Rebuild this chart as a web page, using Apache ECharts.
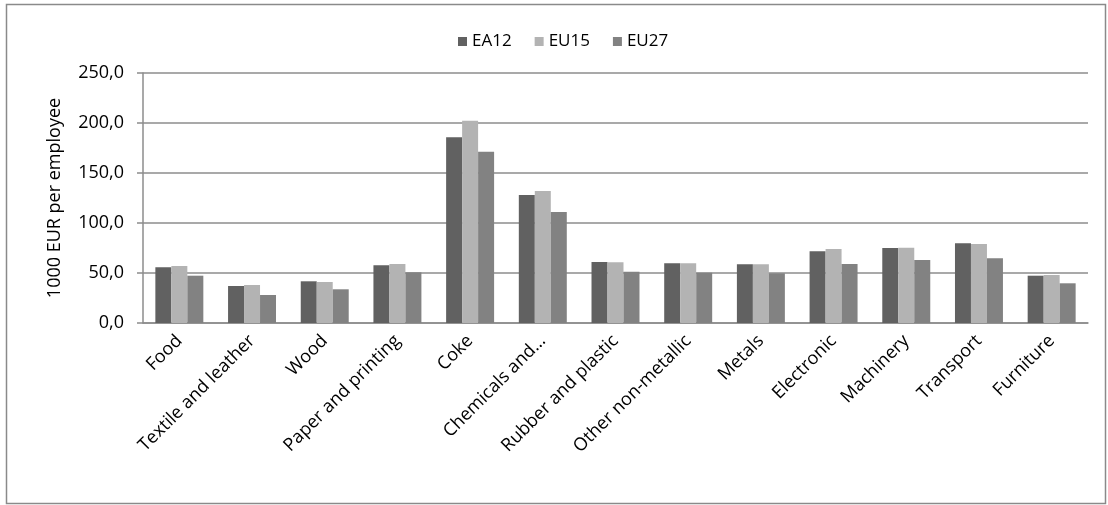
<!DOCTYPE html>
<html>
<head>
<meta charset="utf-8">
<script src="https://cdn.jsdelivr.net/npm/echarts@6/dist/echarts.min.js"></script>
<style>
  html, body { margin: 0; padding: 0; background: #fff; }
  #chart { width: 1108px; height: 505px; }
</style>
</head>
<body>
<div id="chart"></div>
<script>
// Industry sectors on the category axis
const categories = [
  'Food', 'Textile and leather', 'Wood', 'Paper and printing', 'Coke',
  'Chemicals and\u2026', 'Rubber and plastic', 'Other non-metallic', 'Metals',
  'Electronic', 'Machinery', 'Transport', 'Furniture'
];

// Labour productivity, 1000 EUR per employee
const ea12 = [55.7, 37.0, 41.7, 57.7, 185.7, 128.0, 61.0, 59.7, 58.7, 71.7, 75.0, 79.7, 47.3];
const eu15 = [57.0, 38.0, 41.0, 59.0, 202.3, 132.0, 60.7, 59.7, 58.7, 74.0, 75.3, 79.0, 48.0];
const eu27 = [47.3, 28.0, 33.7, 50.7, 171.3, 111.0, 51.3, 50.3, 49.7, 59.0, 63.0, 64.7, 39.7];

const yTicks = { min: 0, max: 250, interval: 50 };
const yAxisTitle = '1000 EUR per employee';

const FONT = '"Open Sans", "DejaVu Sans", sans-serif';
const GRID_GREY = '#8c8c8c';

const chart = echarts.init(document.getElementById('chart'), null, { renderer: 'canvas' });

function barSeries(name, data, color) {
  return {
    name: name,
    type: 'bar',
    data: data,
    barGap: '0%',
    barCategoryGap: '34%',
    itemStyle: { color: color },
    emphasis: { disabled: true }
  };
}

chart.setOption({
  animation: false,
  backgroundColor: '#fff',
  textStyle: { fontFamily: FONT },
  graphic: [{
    type: 'rect',
    shape: { x: 6.5, y: 4.5, width: 1099, height: 499 },
    style: { fill: 'none', stroke: '#8a8a8a', lineWidth: 1.5 },
    silent: true,
    z: -1
  }],
  legend: {
    top: 28,
    left: 453,
    itemWidth: 9,
    itemHeight: 9,
    itemGap: 23,
    icon: 'rect',
    textStyle: { fontFamily: FONT, fontSize: 17, color: '#000', padding: [0, 0, 0, 0] },
    data: ['EA12', 'EU15', 'EU27']
  },
  grid: {
    left: 143,
    right: 20,
    top: 73,
    bottom: 182,
    containLabel: false
  },
  xAxis: {
    type: 'category',
    data: categories,
    axisLine: { lineStyle: { color: GRID_GREY, width: 1.5 } },
    axisTick: { show: false },
    axisLabel: {
      rotate: 45,
      interval: 0,
      margin: 15,
      fontFamily: FONT,
      fontSize: 18,
      color: '#000'
    }
  },
  yAxis: {
    type: 'value',
    min: yTicks.min,
    max: yTicks.max,
    interval: yTicks.interval,
    name: yAxisTitle,
    nameLocation: 'middle',
    nameGap: 79,
    nameTextStyle: { fontFamily: FONT, fontSize: 18, color: '#000' },
    axisLine: { show: true, lineStyle: { color: GRID_GREY, width: 1.5 } },
    axisTick: { show: true, length: 6, lineStyle: { color: GRID_GREY, width: 1.5 } },
    splitLine: { lineStyle: { color: GRID_GREY, width: 1.5 } },
    axisLabel: {
      margin: 19,
      fontFamily: FONT,
      fontSize: 18,
      color: '#000',
      formatter: v => v.toFixed(1).replace('.', ',')
    }
  },
  series: [
    barSeries('EA12', ea12, '#616161'),
    barSeries('EU15', eu15, '#b3b3b3'),
    barSeries('EU27', eu27, '#828282')
  ]
});
</script>
</body>
</html>
